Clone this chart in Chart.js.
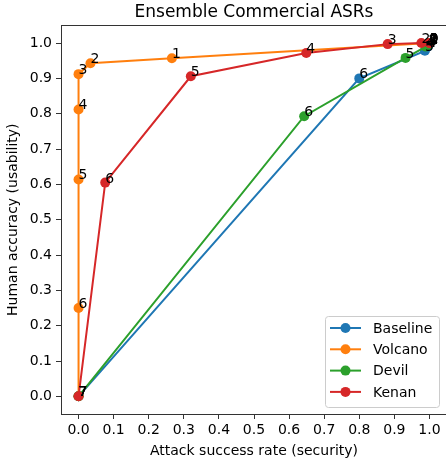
<!DOCTYPE html>
<html>
<head>
<meta charset="utf-8">
<script src="https://cdn.jsdelivr.net/npm/chart.js@4"></script>
<style>
  html, body { margin: 0; padding: 0; background: #fff; width: 446px; height: 462px; overflow: hidden; }
  #c { display: block; }
</style>
</head>
<body>
<canvas id="c" width="452" height="462"></canvas>
<script>
// values
const seriesNames = ['Baseline', 'Volcano', 'Devil', 'Kenan'];
const seriesColors = ['#1f77b4', '#ff7f0e', '#2ca02c', '#d62728'];
const pointLabels = ['7', '6', '5', '4', '3', '2', '1', '0'];

const baselineX = [0, 0.800, 0.987, 0.995, 0.998, 1.000, 1.000, 1.000];
const baselineY = [0, 0.900, 0.978, 0.990, 0.995, 0.998, 1.000, 1.000];
const volcanoX  = [0, 0.000, 0.000, 0.000, 0.000, 0.034, 0.266, 1.000];
const volcanoY  = [0, 0.250, 0.614, 0.812, 0.912, 0.943, 0.957, 1.000];
const devilX    = [0, 0.643, 0.932, 0.990, 0.996, 0.999, 1.000, 1.000];
const devilY    = [0, 0.793, 0.958, 0.990, 0.995, 0.998, 1.000, 1.000];
const kenanX    = [0, 0.076, 0.320, 0.649, 0.881, 0.977, 1.000, 1.000];
const kenanY    = [0, 0.605, 0.906, 0.972, 0.997, 1.000, 1.000, 1.000];

const xTicks = [0, 0.1, 0.2, 0.3, 0.4, 0.5, 0.6, 0.7, 0.8, 0.9, 1.0];
const yTicks = [0, 0.1, 0.2, 0.3, 0.4, 0.5, 0.6, 0.7, 0.8, 0.9, 1.0];

const F = "'DejaVu Sans', sans-serif";
const SPINE = '#333';

const xs = [baselineX, volcanoX, devilX, kenanX];
const ys = [baselineY, volcanoY, devilY, kenanY];

const datasets = seriesNames.map((name, i) => ({
  label: name,
  data: xs[i].map((x, j) => ({ x, y: ys[i][j] })),
  showLine: true,
  borderColor: seriesColors[i],
  backgroundColor: seriesColors[i],
  pointBackgroundColor: seriesColors[i],
  pointBorderColor: seriesColors[i],
  borderWidth: 2,
  pointRadius: 5,
  pointHoverRadius: 5,
  pointBorderWidth: 0,
  order: seriesNames.length - i   // later series on top, like matplotlib
}));

function setTicks(vals) {
  return scale => { scale.ticks = vals.map(v => ({ value: v })); };
}

// frame on all four sides
const frame = {
  id: 'frame',
  afterDatasetsDraw(chart) {
    const a = chart.chartArea, ctx = chart.ctx;
    ctx.save();
    ctx.strokeStyle = SPINE;
    ctx.lineWidth = 1;
    ctx.strokeRect(Math.round(a.left) + 0.5, Math.round(a.top) + 0.5,
                   Math.round(a.right - a.left), Math.round(a.bottom - a.top));
    ctx.restore();
  }
};

// numbers next to every point
const numLabels = {
  id: 'numLabels',
  afterDatasetsDraw(chart) {
    const ctx = chart.ctx;
    ctx.save();
    ctx.fillStyle = '#000';
    ctx.font = `14px ${F}`;
    ctx.textAlign = 'left';
    ctx.textBaseline = 'alphabetic';
    chart.data.datasets.forEach((ds, i) => {
      chart.getDatasetMeta(i).data.forEach((pt, j) => {
        ctx.fillText(pointLabels[j], pt.x, pt.y);
      });
    });
    ctx.restore();
  }
};

// matplotlib-style legend in lower right of the axes
const boxLegend = {
  id: 'boxLegend',
  afterDraw(chart) {
    const a = chart.chartArea, ctx = chart.ctx;
    const w = 114, h = 91, rowH = 21.3;
    const x0 = a.right - 8 - w, y0 = a.bottom - 7 - h;
    ctx.save();
    ctx.fillStyle = 'rgba(255,255,255,0.8)';
    ctx.strokeStyle = '#cccccc';
    ctx.lineWidth = 1;
    ctx.beginPath();
    ctx.roundRect(x0 + 0.5, y0 + 0.5, w, h, 3);
    ctx.fill();
    ctx.stroke();
    ctx.font = `14px ${F}`;
    ctx.textBaseline = 'middle';
    ctx.textAlign = 'left';
    seriesNames.forEach((name, i) => {
      const cy = y0 + 12 + i * rowH;
      ctx.strokeStyle = seriesColors[i];
      ctx.lineWidth = 2;
      ctx.beginPath();
      ctx.moveTo(x0 + 5, cy);
      ctx.lineTo(x0 + 36, cy);
      ctx.stroke();
      ctx.fillStyle = seriesColors[i];
      ctx.beginPath();
      ctx.arc(x0 + 20.5, cy, 5, 0, Math.PI * 2);
      ctx.fill();
      ctx.fillStyle = '#000';
      ctx.fillText(name, x0 + 48, cy + 1);
    });
    ctx.restore();
  }
};

new Chart(document.getElementById('c'), {
  type: 'scatter',
  data: { datasets },
  options: {
    responsive: false,
    animation: false,
    devicePixelRatio: 1,
    layout: { padding: { left: 0, right: 3, top: 0, bottom: 0 } },
    plugins: {
      legend: { display: false },
      tooltip: { enabled: false },
      title: {
        display: true, fullSize: false,
        text: 'Ensemble Commercial ASRs',
        color: '#000',
        font: { family: F, size: 17, weight: 'normal' },
        padding: { top: 2, bottom: 3 }
      }
    },
    scales: {
      x: {
        type: 'linear', position: 'bottom', min: -0.05, max: 1.05,
        afterBuildTicks: setTicks(xTicks),
        afterFit: s => { s.height = 48; },
        border: { display: false },
        grid: { drawOnChartArea: false, drawTicks: true, tickLength: 5, color: SPINE },
        ticks: { color: '#000', font: { family: F, size: 14 }, padding: 3, maxRotation: 0, autoSkip: false,
                 callback: v => v.toFixed(1) },
        title: { display: true, text: 'Attack success rate (security)', color: '#000',
                 font: { family: F, size: 14 }, padding: { top: 0, bottom: 2 } }
      },
      y: {
        type: 'linear', min: -0.05, max: 1.05,
        afterBuildTicks: setTicks(yTicks),
        afterFit: s => { s.width = 61; },
        border: { display: false },
        grid: { drawOnChartArea: false, drawTicks: true, tickLength: 5, color: SPINE },
        ticks: { color: '#000', font: { family: F, size: 14 }, padding: 4, autoSkip: false,
                 callback: v => v.toFixed(1) },
        title: { display: true, text: 'Human accuracy (usability)', color: '#000',
                 font: { family: F, size: 14 }, padding: { top: 5, bottom: 0 } }
      }
    }
  },
  plugins: [frame, numLabels, boxLegend]
});
</script>
</body>
</html>
